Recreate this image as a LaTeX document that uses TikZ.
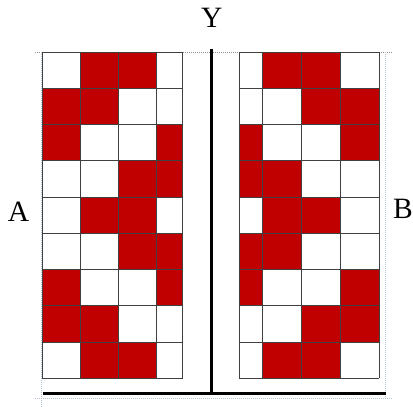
\documentclass[tikz,border=0pt]{standalone}
\usepackage{fontspec}
\setmainfont{Liberation Serif}
\usepackage{xcolor}
\usepackage{tikz}
\makeatletter
\renewcommand\large{%
  \@setfontsize\large{29.5pt}{31pt}%
}
\makeatother
\definecolor{cellred}{HTML}{C00000}
\definecolor{guidegray}{HTML}{B4C2D4}

\begin{document}
\begin{tikzpicture}[x=1pt, y=-1pt, every node/.style={font=\large, inner sep=0pt},
  cell/.style={fill=cellred}, gridline/.style={draw=black!75, line width=1pt},
  axis/.style={line width=3.5pt}, guide/.style={guidegray, line width=0.8pt, dash pattern=on 1pt off 1pt}]
  \useasboundingbox (0,0) rectangle (413,407);
  % guides
  \draw[guide, draw=black!45] (35,52.3) -- (393,52.3);
  \draw[guide] (41.5,52.3) -- (41.5,407);
  \draw[guide] (385,52.3) -- (385,398.3);
  \draw[guide] (35,398.3) -- (393,398.3);
  % left grid A
  \foreach \a/\b/\r in {80/118/1,118/156.7/1, 42.3/80/2,80/118/2, 42.3/80/3,156.7/182.7/3,
      118/156.7/4,156.7/182.7/4, 80/118/5,118/156.7/5, 118/156.7/6,156.7/182.7/6,
      42.3/80/7,156.7/182.7/7, 42.3/80/8,80/118/8, 80/118/9,118/156.7/9}
    \fill[cell] (\a,{52.3+36.22*(\r-1)}) rectangle (\b,{52.3+36.22*\r});
  \foreach \x in {42.3,80,118,156.7,182.7}
    \draw[gridline] (\x,52.3) -- (\x,378.3);
  \foreach \r in {0,...,9}
    \draw[gridline] (42.3,{52.3+36.22*\r}) -- (182.7,{52.3+36.22*\r});
  % right grid B
  \foreach \a/\b/\r in {262.7/301.3/1,301.3/340.3/1, 301.3/340.3/2,340.3/379.3/2, 239.3/262.7/3,340.3/379.3/3,
      239.3/262.7/4,262.7/301.3/4, 262.7/301.3/5,301.3/340.3/5, 239.3/262.7/6,262.7/301.3/6,
      239.3/262.7/7,340.3/379.3/7, 301.3/340.3/8,340.3/379.3/8, 262.7/301.3/9,301.3/340.3/9}
    \fill[cell] (\a,{52.3+36.22*(\r-1)}) rectangle (\b,{52.3+36.22*\r});
  \foreach \x in {239.3,262.7,301.3,340.3,379.3}
    \draw[gridline] (\x,52.3) -- (\x,378.3);
  \foreach \r in {0,...,9}
    \draw[gridline] (239.3,{52.3+36.22*\r}) -- (379.3,{52.3+36.22*\r});
  % axes
  \draw[axis] (211.5,49) -- (211.5,393.3);
  \draw[axis] (43,393.3) -- (386,393.3);
  % labels
  \node (ylab) at (211.7,18.3) {Y};
  \node (alab) at (18.5,212) {A};
  \node (blab) at (403,208.5) {B};
\end{tikzpicture}
\end{document}
